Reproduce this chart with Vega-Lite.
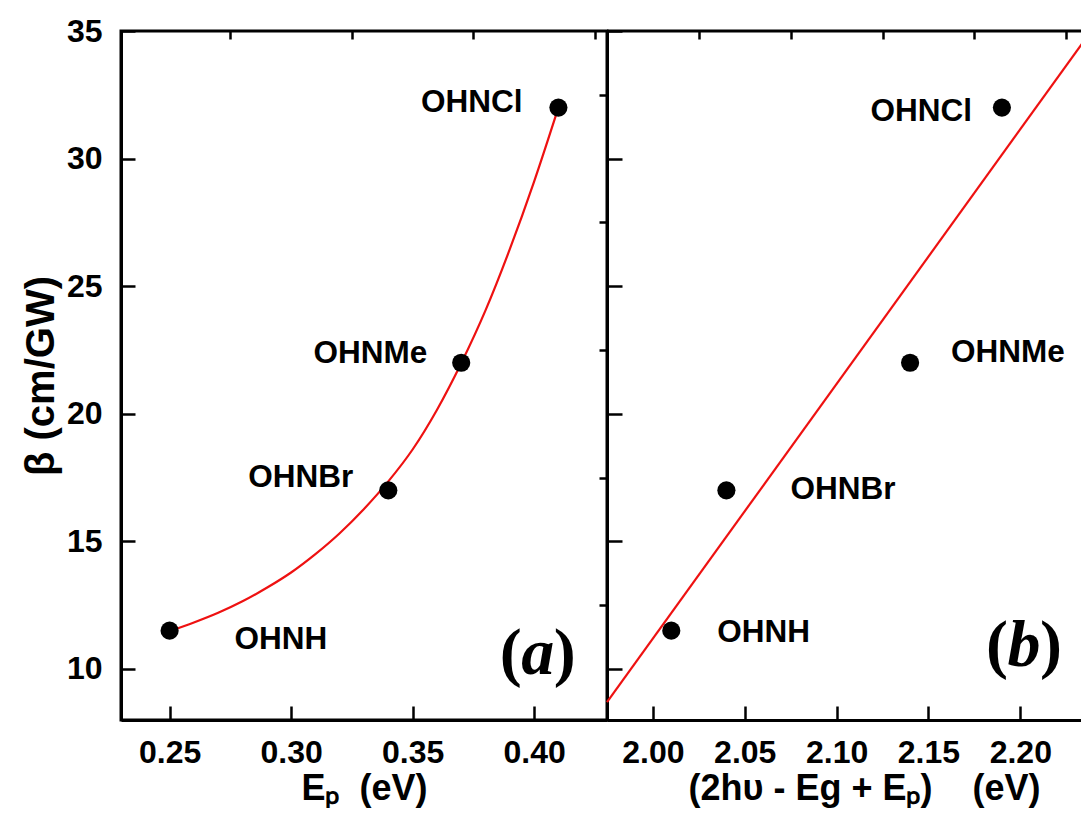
{
  "$schema": "https://vega.github.io/schema/vega-lite/v6.json",
  "padding": {"left": 19, "top": 13, "right": 0, "bottom": 0},
  "spacing": 0,
  "bounds": "flush",
  "background": "white",
  "config": {
    "view": {"stroke": "black", "strokeWidth": 3},
    "font": "Liberation Sans",
    "axis": {
      "grid": false,
      "domainColor": "black",
      "domainWidth": 3,
      "tickColor": "black",
      "tickWidth": 2.5,
      "labelFont": "Liberation Sans",
      "labelFontSize": 32,
      "labelFontWeight": "bold",
      "labelColor": "black",
      "titleFont": "Liberation Sans",
      "titleFontSize": 36,
      "titleFontWeight": "bold",
      "titleColor": "black"
    }
  },
  "datasets": {
    "a": [
      {"name": "OHNH", "x": 0.25, "y": 11.5},
      {"name": "OHNBr", "x": 0.34, "y": 17},
      {"name": "OHNMe", "x": 0.37, "y": 22},
      {"name": "OHNCl", "x": 0.41, "y": 32}
    ],
    "b": [
      {"name": "OHNH", "x": 2.01, "y": 11.5},
      {"name": "OHNBr", "x": 2.04, "y": 17},
      {"name": "OHNMe", "x": 2.14, "y": 22},
      {"name": "OHNCl", "x": 2.19, "y": 32}
    ],
    "fitA": [
      {"x": 0.25, "y": 11.48},
      {"x": 0.26, "y": 11.82},
      {"x": 0.27, "y": 12.2},
      {"x": 0.28, "y": 12.65},
      {"x": 0.29, "y": 13.18},
      {"x": 0.30, "y": 13.78},
      {"x": 0.31, "y": 14.5},
      {"x": 0.32, "y": 15.32},
      {"x": 0.33, "y": 16.27},
      {"x": 0.34, "y": 17.35},
      {"x": 0.35, "y": 18.6},
      {"x": 0.36, "y": 20.15},
      {"x": 0.37, "y": 21.98},
      {"x": 0.38, "y": 24.05},
      {"x": 0.39, "y": 26.45},
      {"x": 0.40, "y": 29.1},
      {"x": 0.41, "y": 32.0}
    ],
    "fitB": [
      {"x": 1.975, "y": 8.7},
      {"x": 2.2336, "y": 34.5}
    ],
    "panelA": [{"x": 0.4015, "y": 10.6, "letter": "a"}],
    "panelB": [{"x": 2.202, "y": 10.9, "letter": "b"}]
  },
  "hconcat": [
    {
      "width": 486,
      "height": 689,
      "resolve": {"axis": {"x": "independent", "y": "independent"}},
      "layer": [
        {
          "data": {"name": "fitA"},
          "mark": {"type": "line", "color": "#ee1111", "strokeWidth": 2.2, "interpolate": "monotone"},
          "encoding": {
            "x": {
              "field": "x", "type": "quantitative",
              "scale": {"domain": [0.23, 0.43], "nice": false, "zero": false},
              "axis": {
                "title": "Eₚ\u00a0\u00a0(eV)",
                "values": [0.25, 0.3, 0.35, 0.4],
                "format": ".2f",
                "tickSize": -14,
                "labelPadding": 31,
                "titlePadding": 3
              }
            },
            "y": {
              "field": "y", "type": "quantitative",
              "scale": {"domain": [8, 35], "nice": false, "zero": false},
              "axis": {
                "title": "β (cm/GW)",
                "titleFontSize": 40,
                "values": [10, 15, 20, 25, 30, 35],
                "format": "d",
                "tickSize": -14,
                "labelPadding": 33,
                "titlePadding": 5
              }
            }
          }
        },
        {
          "data": {"name": "a"},
          "mark": {"type": "point", "filled": true, "size": 330, "color": "black", "opacity": 1},
          "encoding": {
            "x": {"field": "x", "type": "quantitative",
              "axis": {"title": null, "labels": false, "domain": false, "values": [0.275, 0.325, 0.375, 0.425], "tickSize": -8}},
            "y": {"field": "y", "type": "quantitative",
              "axis": {"title": null, "labels": false, "domain": false, "values": [12.5, 17.5, 22.5, 27.5, 32.5], "tickSize": -8}}
          }
        },
        {
          "data": {"name": "a"},
          "transform": [{"filter": "datum.name === 'OHNCl'"}],
          "mark": {"type": "text", "align": "right", "baseline": "middle", "dx": -36, "dy": -5, "fontSize": 31.5, "fontWeight": "bold", "font": "Liberation Sans", "color": "black"},
          "encoding": {"x": {"field": "x", "type": "quantitative", "axis": null}, "y": {"field": "y", "type": "quantitative", "axis": null}, "text": {"field": "name"}}
        },
        {
          "data": {"name": "a"},
          "transform": [{"filter": "datum.name === 'OHNMe'"}],
          "mark": {"type": "text", "align": "right", "baseline": "middle", "dx": -34, "dy": -9, "fontSize": 31.5, "fontWeight": "bold", "font": "Liberation Sans", "color": "black"},
          "encoding": {"x": {"field": "x", "type": "quantitative", "axis": null}, "y": {"field": "y", "type": "quantitative", "axis": null}, "text": {"field": "name"}}
        },
        {
          "data": {"name": "a"},
          "transform": [{"filter": "datum.name === 'OHNBr'"}],
          "mark": {"type": "text", "align": "right", "baseline": "middle", "dx": -35, "dy": -12, "fontSize": 31.5, "fontWeight": "bold", "font": "Liberation Sans", "color": "black"},
          "encoding": {"x": {"field": "x", "type": "quantitative", "axis": null}, "y": {"field": "y", "type": "quantitative", "axis": null}, "text": {"field": "name"}}
        },
        {
          "data": {"name": "a"},
          "transform": [{"filter": "datum.name === 'OHNH'"}],
          "mark": {"type": "text", "align": "left", "baseline": "middle", "dx": 65, "dy": 9, "fontSize": 31.5, "fontWeight": "bold", "font": "Liberation Sans", "color": "black"},
          "encoding": {"x": {"field": "x", "type": "quantitative", "axis": null}, "y": {"field": "y", "type": "quantitative", "axis": null}, "text": {"field": "name"}}
        },
        {
          "data": {"name": "panelA"},
          "mark": {"type": "text", "align": "right", "baseline": "middle", "dx": -16, "fontSize": 66, "fontWeight": "bold", "font": "Liberation Serif", "color": "black"},
          "encoding": {"x": {"field": "x", "type": "quantitative", "axis": null}, "y": {"field": "y", "type": "quantitative", "axis": null}, "text": {"value": "("}}
        },
        {
          "data": {"name": "panelA"},
          "mark": {"type": "text", "align": "center", "baseline": "middle", "fontSize": 66, "fontWeight": "bold", "fontStyle": "italic", "font": "Liberation Serif", "color": "black"},
          "encoding": {"x": {"field": "x", "type": "quantitative", "axis": null}, "y": {"field": "y", "type": "quantitative", "axis": null}, "text": {"field": "letter"}}
        },
        {
          "data": {"name": "panelA"},
          "mark": {"type": "text", "align": "left", "baseline": "middle", "dx": 16, "fontSize": 66, "fontWeight": "bold", "font": "Liberation Serif", "color": "black"},
          "encoding": {"x": {"field": "x", "type": "quantitative", "axis": null}, "y": {"field": "y", "type": "quantitative", "axis": null}, "text": {"value": ")"}}
        }
      ]
    },
    {
      "width": 475,
      "height": 689,
      "view": {"stroke": null},
      "resolve": {"axis": {"x": "independent", "y": "independent"}},
      "layer": [
        {
          "data": {"name": "fitB"},
          "mark": {"type": "line", "color": "#ee1111", "strokeWidth": 2.2},
          "encoding": {
            "x": {
              "field": "x", "type": "quantitative",
              "scale": {"domain": [1.975, 2.2336], "nice": false, "zero": false},
              "axis": {
                "title": "(2hυ - Eg + Eₚ)\u00a0\u00a0\u00a0\u00a0(eV)",
                "values": [2.0, 2.05, 2.1, 2.15, 2.2],
                "format": ".2f",
                "tickSize": -14,
                "labelPadding": 31,
                "titlePadding": 3,
                "titleX": 257
              }
            },
            "y": {
              "field": "y", "type": "quantitative",
              "scale": {"domain": [8, 35], "nice": false, "zero": false},
              "axis": {
                "title": null,
                "labels": false,
                "values": [10, 15, 20, 25, 30, 35],
                "tickSize": -15
              }
            }
          }
        },
        {
          "data": {"values": [{}]},
          "mark": {"type": "rule", "color": "black", "strokeWidth": 3},
          "encoding": {"y": {"datum": 35, "type": "quantitative", "axis": null}}
        },
        {
          "data": {"name": "b"},
          "mark": {"type": "point", "filled": true, "size": 330, "color": "black", "opacity": 1},
          "encoding": {
            "x": {"field": "x", "type": "quantitative",
              "axis": {"title": null, "labels": false, "domain": false, "values": [2.025, 2.075, 2.125, 2.175, 2.225], "tickSize": -8}},
            "y": {"field": "y", "type": "quantitative", "axis": null}
          }
        },
        {
          "data": {"name": "b"},
          "transform": [{"filter": "datum.name === 'OHNCl'"}],
          "mark": {"type": "text", "align": "right", "baseline": "middle", "dx": -30, "dy": 4, "fontSize": 31.5, "fontWeight": "bold", "font": "Liberation Sans", "color": "black"},
          "encoding": {"x": {"field": "x", "type": "quantitative", "axis": null}, "y": {"field": "y", "type": "quantitative", "axis": null}, "text": {"field": "name"}}
        },
        {
          "data": {"name": "b"},
          "transform": [{"filter": "datum.name === 'OHNMe'"}],
          "mark": {"type": "text", "align": "left", "baseline": "middle", "dx": 41, "dy": -10, "fontSize": 31.5, "fontWeight": "bold", "font": "Liberation Sans", "color": "black"},
          "encoding": {"x": {"field": "x", "type": "quantitative", "axis": null}, "y": {"field": "y", "type": "quantitative", "axis": null}, "text": {"field": "name"}}
        },
        {
          "data": {"name": "b"},
          "transform": [{"filter": "datum.name === 'OHNBr'"}],
          "mark": {"type": "text", "align": "left", "baseline": "middle", "dx": 64, "dy": 0, "fontSize": 31.5, "fontWeight": "bold", "font": "Liberation Sans", "color": "black"},
          "encoding": {"x": {"field": "x", "type": "quantitative", "axis": null}, "y": {"field": "y", "type": "quantitative", "axis": null}, "text": {"field": "name"}}
        },
        {
          "data": {"name": "b"},
          "transform": [{"filter": "datum.name === 'OHNH'"}],
          "mark": {"type": "text", "align": "left", "baseline": "middle", "dx": 46, "dy": 2, "fontSize": 31.5, "fontWeight": "bold", "font": "Liberation Sans", "color": "black"},
          "encoding": {"x": {"field": "x", "type": "quantitative", "axis": null}, "y": {"field": "y", "type": "quantitative", "axis": null}, "text": {"field": "name"}}
        },
        {
          "data": {"name": "panelB"},
          "mark": {"type": "text", "align": "right", "baseline": "middle", "dx": -16, "fontSize": 66, "fontWeight": "bold", "font": "Liberation Serif", "color": "black"},
          "encoding": {"x": {"field": "x", "type": "quantitative", "axis": null}, "y": {"field": "y", "type": "quantitative", "axis": null}, "text": {"value": "("}}
        },
        {
          "data": {"name": "panelB"},
          "mark": {"type": "text", "align": "center", "baseline": "middle", "fontSize": 66, "fontWeight": "bold", "fontStyle": "italic", "font": "Liberation Serif", "color": "black"},
          "encoding": {"x": {"field": "x", "type": "quantitative", "axis": null}, "y": {"field": "y", "type": "quantitative", "axis": null}, "text": {"field": "letter"}}
        },
        {
          "data": {"name": "panelB"},
          "mark": {"type": "text", "align": "left", "baseline": "middle", "dx": 16, "fontSize": 66, "fontWeight": "bold", "font": "Liberation Serif", "color": "black"},
          "encoding": {"x": {"field": "x", "type": "quantitative", "axis": null}, "y": {"field": "y", "type": "quantitative", "axis": null}, "text": {"value": ")"}}
        }
      ]
    }
  ]
}
